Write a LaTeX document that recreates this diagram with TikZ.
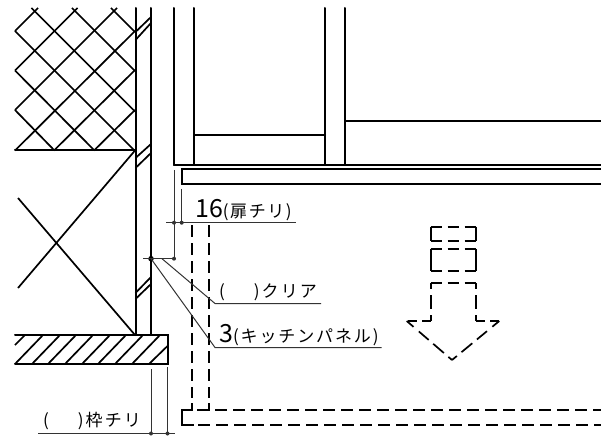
\documentclass[tikz,border=0pt]{standalone}
\usepackage{xcolor}
\usepackage{fontspec}
\newfontfamily\jpfont{Noto Sans CJK JP}
\usetikzlibrary{positioning}
\tikzset{
  wall/.style={line width=2pt, line cap=round},
  hatch/.style={line width=1.7pt},
  hidden/.style={line width=2pt, dash pattern=on 11.5pt off 6.5pt},
  solidend/.style={line width=2pt},
  sideA/.style={line width=2pt, dash pattern=on 11pt off 6pt},
  sideB/.style={line width=2pt, dash pattern=on 6pt off 6pt on 14pt off 6pt on 6pt off 9pt},
  sideC/.style={line width=2pt, dash pattern=on 9pt off 5pt on 9pt off 9pt},
  sideD/.style={line width=1.7pt, dash pattern=on 9pt off 7pt on 13pt off 6pt on 14pt off 6pt on 7pt off 9pt},
  dimline/.style={line width=1pt, black!80},
  dimdot/.style={circle, fill=black!80, inner sep=0pt, minimum size=4pt},
  bigdot/.style={circle, fill=black, inner sep=0pt, minimum size=5.5pt},
  label/.style={anchor=base west, inner sep=0pt, font=\jpfont\fontsize{17}{17}\selectfont},
}
\newcommand{\bigfig}[1]{{\fontsize{25}{25}\selectfont #1}}
\begin{document}
\begin{tikzpicture}[x=1pt, y=-1pt]
    \useasboundingbox (0,0) rectangle (601,438);
    % lattice
    \foreach \a in {31.5,72,111}
      \draw[hatch] (\a,8) -- ++(135-\a,135-\a);
    \draw[hatch] (15,31) -- (134,150);
    \draw[hatch] (15,70.5) -- (94,150);
    \draw[hatch] (15,110) -- (54,150);
    \draw[hatch] (15,31) -- (38,8);
    \draw[hatch] (15,70.5) -- (77.5,8);
    \draw[hatch] (15,110) -- (117,8);
    \draw[hatch] (15,150.5) -- (135,31);
    \draw[hatch] (54,150.5) -- (135,70);
    \draw[hatch] (94,150.5) -- (135,110);
    \draw[wall] (15,150.5) -- (135,150.5);
    % cross below it
    \draw[hatch] (135,150.5) -- (18,288);
    \draw[hatch] (18,198) -- (135,335);
    % wall lines
    \draw[wall] (135.5,8) -- (135.5,335);
    \draw[wall] (151,8) -- (151,335);
    \foreach \y/\z in {32/17, 40/23, 158/144, 168/153, 293/277, 299/284}
      \draw[hatch] (135.5,\y) -- (151,\z);
    % band
    \draw[wall] (15,335) -- (167.5,335) -- (167.5,364) -- (15,364);
    \foreach \a in {15,32,48,65,82,98,115,132}
      \draw[hatch] (\a,364) -- ++(28,-29);
    \draw[hatch] (15,345) -- (25,335);
    \draw[hatch] (149,364) -- (167.5,346);
    % frame above
    \foreach \a in {174,194,325,345}
      \draw[wall] (\a,8) -- (\a,165);
    \draw[wall] (174,165) -- (601,165);
    \draw[wall] (194,135.5) -- (325,135.5);
    \draw[wall] (345,121.5) -- (601,121.5);
    \draw[wall] (601,169.5) -- (182,169.5) -- (182,184) -- (601,184);
    % hidden door edge
    \draw[hidden] (192,225) -- (192,398);
    \draw[hidden] (208.5,225) -- (208.5,398);
    \draw[solidend] (192,403) -- (192,410) -- (181.7,410) -- (181.7,425.3) -- (194,425.3);
    \draw[solidend] (208.5,403) -- (208.5,410) -- (197,410);
    \draw[hidden] (215,410) -- (601,410);
    \draw[hidden] (198,425.3) -- (601,425.3);
    % arrow
    \draw[sideA] (430.5,226.7) -- (476,226.7);
    \draw[sideA] (430.5,240.7) -- (476,240.7);
    \draw[solidend] (430.5,226.7) -- (430.5,240.7);
    \draw[solidend] (476,226.7) -- (476,240.7);
    \draw[sideA] (430.5,249) -- (476,249);
    \draw[sideA] (430.5,271) -- (476,271);
    \draw[solidend] (430.5,249) -- (430.5,271);
    \draw[solidend] (476,249) -- (476,271);
    \draw[sideA] (430.5,283) -- (476,283);
    \draw[sideB] (430.5,283) -- (430.5,321);
    \draw[sideB] (476,283) -- (476,321);
    \draw[sideC] (430.5,321) -- (406.7,321);
    \draw[sideC] (476,321) -- (499.3,321);
    \draw[sideD] (406.7,321) -- (452,360);
    \draw[sideD] (499.3,321) -- (452,360);
    % dimension points
    \coordinate (wallmark) at (151,258.7);
    \node[bigdot] (wallpt) at (wallmark) {};
    \node[dimdot] (clearpt) at (174,258.7) {};
    \node[dimdot] (dimA) at (174,222.7) {};
    \node[dimdot] (dimB) at (181.7,222.7) {};
    \node[dimdot] (dimC) at (151,433.5) {};
    \node[dimdot] (dimD) at (167.5,433.5) {};
    \coordinate (topA) at (174,170);
    \coordinate (topB) at (181.7,189);
    \coordinate (topC) at (151,369);
    \coordinate (topD) at (167.5,367);
    \coordinate (doorL) at (166,222.7);
    \coordinate (doorR) at (296,222.7);
    \coordinate (wallL) at (143,258.7);
    \coordinate (frameL) at (38,433.3);
    \coordinate (frameR) at (175,433.3);
    \coordinate (leadA) at (162,258.7);
    \coordinate (kneeA) at (215,303.5);
    \coordinate (endA) at (321,303.5);
    \coordinate (kneeB) at (215,347.5);
    \coordinate (endB) at (381.7,347.5);
    \draw[dimline] (topA) -- (clearpt.center);
    \draw[dimline] (topB) -- (dimB.center);
    \draw[dimline] (doorL) -- (doorR);
    \draw[dimline] (wallL) -- (clearpt.center);
    \draw[dimline] (topC) -- (dimC.center);
    \draw[dimline] (topD) -- (dimD.center);
    \draw[dimline] (frameL) -- (frameR);
    \draw[dimline] (leadA) -- (kneeA) -- (endA);
    \draw[dimline] (wallpt.center) -- (kneeB) -- (endB);
    % labels
    \node[label] (doorlabel) at (195,217) {\bigfig{16}\addfontfeature{LetterSpace=9}(扉チリ)};
    \node[label] (clearlabel) at (219,297) {\addfontfeature{LetterSpace=12}(\hspace{29pt})クリア};
    \node[label] (panellabel) at (219,342) {\bigfig{3}\addfontfeature{LetterSpace=11}(キッチンパネル)};
    \node[label] (framelabel) at (43,426) {\addfontfeature{LetterSpace=12}(\hspace{29pt})枠チリ};
  \end{tikzpicture}
\end{document}
